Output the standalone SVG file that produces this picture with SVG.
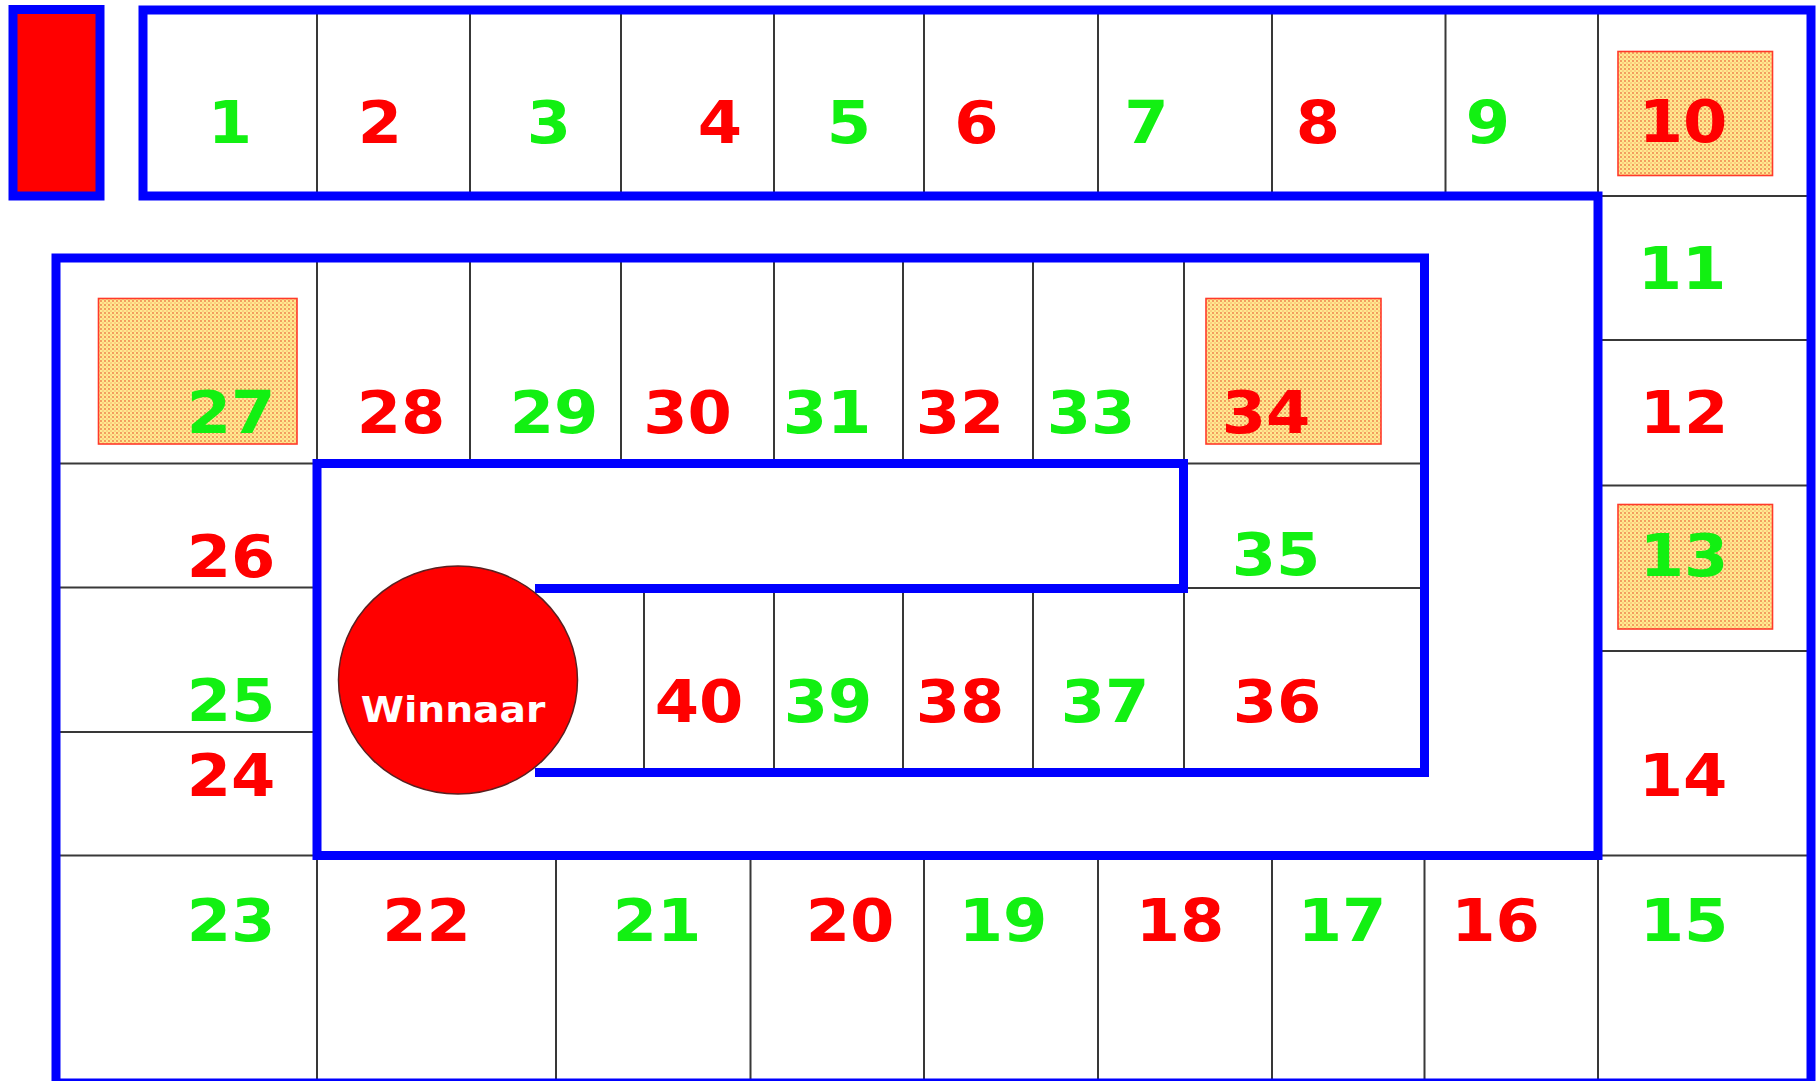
<svg xmlns="http://www.w3.org/2000/svg" width="1816" height="1081" viewBox="0 0 1816 1081">
<defs>
<pattern id="dots" width="4" height="4" patternUnits="userSpaceOnUse">
<rect width="4" height="4" fill="#FFEA90"/>
<circle cx="1" cy="1" r="0.9" fill="#EE7A48"/>
<circle cx="3" cy="3" r="0.7" fill="#F4A060"/>
</pattern>
</defs>
<style>
.n{font-family:"DejaVu Sans",Verdana,"Liberation Sans",sans-serif;font-weight:bold;font-size:59px;text-anchor:middle}
.g{fill:#12F012}
.r{fill:#FF0000}
.sq{fill:url(#dots);stroke:#FF3A2A;stroke-width:1.6}
.thin{stroke:#383838;stroke-width:2;fill:none}
.blue{stroke:#0000FF;stroke-width:9;fill:none;stroke-linejoin:miter}
</style>
<rect width="1816" height="1081" fill="#FFFFFF"/>
<g id="grid" class="thin">
<path d="M317 10V196M470 10V196M621 10V196M774 10V196M924 10V196M1098 10V196M1272 10V196M1445.5 10V196M1598 10V196M1598 196H1811"/>
<path d="M1598 340H1811M1598 485.5H1811M1598 651H1811M1598 855.5H1811"/>
<path d="M317 855.5V1081M556 855.5V1081M750.5 855.5V1081M924 855.5V1081M1098 855.5V1081M1272 855.5V1081M1424.5 855.5V1081M1598 855.5V1081"/>
<path d="M56 463.5H317M56 587.5H317M56 732H317M56 855.5H317"/>
<path d="M317 258V463.5M470 258V463.5M621 258V463.5M774 258V463.5M903 258V463.5M1033 258V463.5M1184 258V463.5"/>
<path d="M1184 463.5H1424.5M1184 588H1424.5"/>
<path d="M644 588V772M774 588V772M903 588V772M1033 588V772M1184 588V772"/>
</g>
<g id="track">
<path class="blue" d="M535 772.5H1424.5V258H56V1083H1811V10H143V196H1598V855.5H317V463.5H1183.5V588.5H535"/>
</g>
<g id="start">
<rect x="13" y="9.5" width="87" height="186.5" fill="#FF0000" stroke="#0000FF" stroke-width="9"/>
</g>
<g id="winnaar">
<ellipse cx="458" cy="680" rx="119.5" ry="114" fill="#FF0000" stroke="#5A2020" stroke-width="1.5"/>
<text transform="translate(453,721.5) scale(1.12,1)" style="font-family:'DejaVu Sans',Verdana,'Liberation Sans',sans-serif;font-weight:bold;font-size:35px;text-anchor:middle" fill="#FFFFFF">Winnaar</text>
</g>
<g id="c1"><text class="n g" transform="translate(230,143) scale(1.08,1)">1</text></g>
<g id="c2"><text class="n r" transform="translate(380,143) scale(1.08,1)">2</text></g>
<g id="c3"><text class="n g" transform="translate(549,143) scale(1.08,1)">3</text></g>
<g id="c4"><text class="n r" transform="translate(720,143) scale(1.08,1)">4</text></g>
<g id="c5"><text class="n g" transform="translate(849,143) scale(1.08,1)">5</text></g>
<g id="c6"><text class="n r" transform="translate(976.5,143) scale(1.08,1)">6</text></g>
<g id="c7"><text class="n g" transform="translate(1146.5,143) scale(1.08,1)">7</text></g>
<g id="c8"><text class="n r" transform="translate(1318,143) scale(1.08,1)">8</text></g>
<g id="c9"><text class="n g" transform="translate(1488,143) scale(1.08,1)">9</text></g>
<g id="c10"><rect class="sq" x="1618" y="51.5" width="154.5" height="124"/><text class="n r" transform="translate(1683,142) scale(1.08,1)">10</text></g>
<g id="c11"><text class="n g" transform="translate(1682,289) scale(1.08,1)">11</text></g>
<g id="c12"><text class="n r" transform="translate(1684,432.5) scale(1.08,1)">12</text></g>
<g id="c13"><rect class="sq" x="1618" y="504.5" width="154.5" height="124.5"/><text class="n g" transform="translate(1684,576) scale(1.08,1)">13</text></g>
<g id="c14"><text class="n r" transform="translate(1683,796) scale(1.08,1)">14</text></g>
<g id="c15"><text class="n g" transform="translate(1684,941) scale(1.08,1)">15</text></g>
<g id="c16"><text class="n r" transform="translate(1495.5,941) scale(1.08,1)">16</text></g>
<g id="c17"><text class="n g" transform="translate(1342,941) scale(1.08,1)">17</text></g>
<g id="c18"><text class="n r" transform="translate(1180,941) scale(1.08,1)">18</text></g>
<g id="c19"><text class="n g" transform="translate(1003,941) scale(1.08,1)">19</text></g>
<g id="c20"><text class="n r" transform="translate(850,941) scale(1.08,1)">20</text></g>
<g id="c21"><text class="n g" transform="translate(657,941) scale(1.08,1)">21</text></g>
<g id="c22"><text class="n r" transform="translate(426.5,941) scale(1.08,1)">22</text></g>
<g id="c23"><text class="n g" transform="translate(231,941) scale(1.08,1)">23</text></g>
<g id="c24"><text class="n r" transform="translate(231,796) scale(1.08,1)">24</text></g>
<g id="c25"><text class="n g" transform="translate(231,721) scale(1.08,1)">25</text></g>
<g id="c26"><text class="n r" transform="translate(231,577) scale(1.08,1)">26</text></g>
<g id="c27"><rect class="sq" x="98.5" y="298.5" width="198.5" height="145.5"/><text class="n g" transform="translate(231,432.5) scale(1.08,1)">27</text></g>
<g id="c28"><text class="n r" transform="translate(401,432.5) scale(1.08,1)">28</text></g>
<g id="c29"><text class="n g" transform="translate(554,432.5) scale(1.08,1)">29</text></g>
<g id="c30"><text class="n r" transform="translate(687.5,432.5) scale(1.08,1)">30</text></g>
<g id="c31"><text class="n g" transform="translate(827,432.5) scale(1.08,1)">31</text></g>
<g id="c32"><text class="n r" transform="translate(960,432.5) scale(1.08,1)">32</text></g>
<g id="c33"><text class="n g" transform="translate(1091,432.5) scale(1.08,1)">33</text></g>
<g id="c34"><rect class="sq" x="1206" y="298.5" width="175" height="145.5"/><text class="n r" transform="translate(1266,432.5) scale(1.08,1)">34</text></g>
<g id="c35"><text class="n g" transform="translate(1276,575) scale(1.08,1)">35</text></g>
<g id="c36"><text class="n r" transform="translate(1277,722) scale(1.08,1)">36</text></g>
<g id="c37"><text class="n g" transform="translate(1105,722) scale(1.08,1)">37</text></g>
<g id="c38"><text class="n r" transform="translate(960,722) scale(1.08,1)">38</text></g>
<g id="c39"><text class="n g" transform="translate(828,722) scale(1.08,1)">39</text></g>
<g id="c40"><text class="n r" transform="translate(699,722) scale(1.08,1)">40</text></g>
</svg>
